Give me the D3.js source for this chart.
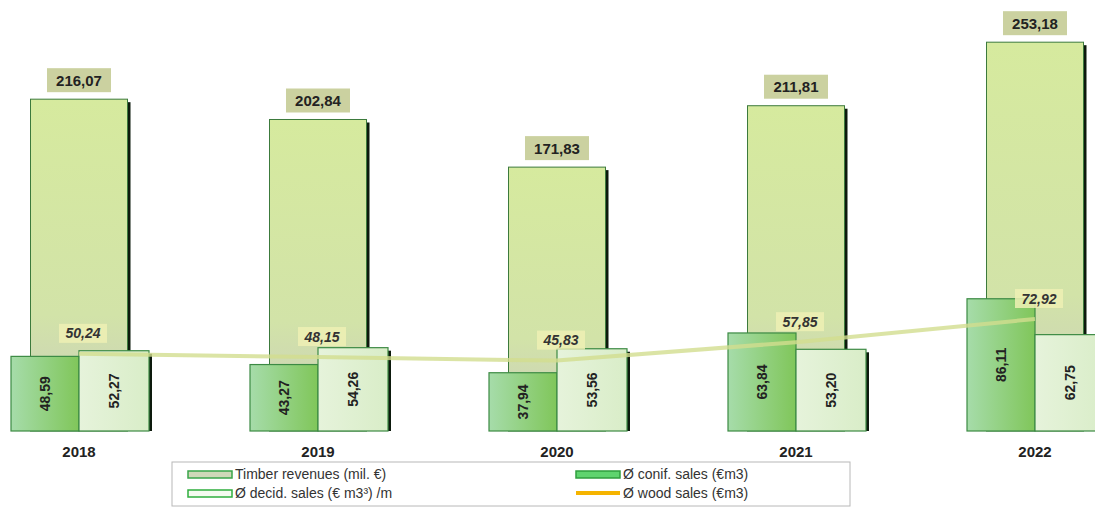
<!DOCTYPE html>
<html>
<head>
<meta charset="utf-8">
<title>Timber revenues and average sales</title>
<script src="https://d3js.org/d3.v7.min.js"></script>
<style>
  html, body { margin: 0; padding: 0; background: #fff; }
  text { font-family: "Liberation Sans", Arial, sans-serif; }
  .cat { font-size: 15px; font-weight: bold; fill: #222; }
  .lbl { font-size: 15px; font-weight: bold; fill: #222; }
  .rot { font-size: 14px; font-weight: bold; fill: #222; }
  .ital { font-size: 14px; font-weight: bold; font-style: italic; fill: #333; }
  .leg { font-size: 14px; fill: #333; }
</style>
</head>
<body>
<script>
var years = ["2018", "2019", "2020", "2021", "2022"];
var timber = [216.07, 202.84, 171.83, 211.81, 253.18];
var conif = [48.59, 43.27, 37.94, 63.84, 86.11];
var decid = [52.27, 54.26, 53.56, 53.20, 62.75];
var wood = [50.24, 48.15, 45.83, 57.85, 72.92];
var legendLabels = ["Timber revenues (mil. €)", "Ø conif. sales (€m3)", "Ø decid. sales (€ m3³)  /m", "Ø wood sales (€m3)"];

var fmt = function(v) { return v.toFixed(2).replace(".", ","); };

var W = 1095, H = 509;
var svg = d3.select("body").append("svg").attr("width", W).attr("height", H);

var defs = svg.append("defs");
var g1 = defs.append("linearGradient").attr("id", "gBig").attr("x1", 0).attr("y1", 0).attr("x2", 0).attr("y2", 1);
g1.append("stop").attr("offset", "0%").attr("stop-color", "#d6ea9e");
g1.append("stop").attr("offset", "65%").attr("stop-color", "#d2e3a8");
g1.append("stop").attr("offset", "100%").attr("stop-color", "#c9cbbf");
var g2 = defs.append("linearGradient").attr("id", "gConif").attr("x1", 0).attr("y1", 0).attr("x2", 1).attr("y2", 0);
g2.append("stop").attr("offset", "0%").attr("stop-color", "#a6dcaa");
g2.append("stop").attr("offset", "100%").attr("stop-color", "#80c65a");
var g3 = defs.append("linearGradient").attr("id", "gDecid").attr("x1", 0).attr("y1", 0).attr("x2", 1).attr("y2", 0);
g3.append("stop").attr("offset", "0%").attr("stop-color", "#e6f3db");
g3.append("stop").attr("offset", "100%").attr("stop-color", "#d9edc8");

var x = d3.scalePoint().domain(years).range([79, 1035]);
var y = d3.scaleLinear().domain([0, 280]).range([431, 1]);

var bigW = 97, cW = 68, dW = 70;
var rows = years.map(function(yr, i) {
  return { year: yr, timber: timber[i], conif: conif[i], decid: decid[i], wood: wood[i] };
});

// big bars (timber revenues)
var big = svg.append("g");
big.selectAll("rect.shadow").data(rows).enter().append("rect")
  .attr("x", function(d) { return x(d.year) + bigW / 2; })
  .attr("y", function(d) { return y(d.timber) + 3; })
  .attr("width", 3)
  .attr("height", function(d) { return y(0) - y(d.timber) - 3; })
  .attr("fill", "#0d1a0d");
big.selectAll("rect.bar").data(rows).enter().append("rect")
  .attr("x", function(d) { return x(d.year) - bigW / 2; })
  .attr("y", function(d) { return y(d.timber); })
  .attr("width", bigW)
  .attr("height", function(d) { return y(0) - y(d.timber); })
  .attr("fill", "url(#gBig)")
  .attr("stroke", "#3c7a3c").attr("stroke-width", 1);

// labels of big bars
var bl = svg.append("g");
bl.selectAll("rect").data(rows).enter().append("rect")
  .attr("x", function(d) { return x(d.year) - 32; })
  .attr("y", function(d) { return y(d.timber) - 31; })
  .attr("width", 64).attr("height", 24)
  .attr("fill", "#cbd1a0");
bl.selectAll("text").data(rows).enter().append("text")
  .attr("class", "lbl")
  .attr("x", function(d) { return x(d.year); })
  .attr("y", function(d) { return y(d.timber) - 13.5; })
  .attr("text-anchor", "middle")
  .text(function(d) { return fmt(d.timber); });

// small bars
var sm = svg.append("g");
sm.selectAll("rect.conif").data(rows).enter().append("rect")
  .attr("x", function(d) { return x(d.year) - cW; })
  .attr("y", function(d) { return y(d.conif); })
  .attr("width", cW)
  .attr("height", function(d) { return y(0) - y(d.conif); })
  .attr("fill", "url(#gConif)")
  .attr("stroke", "#3c8a44").attr("stroke-width", 1.2);
sm.selectAll("rect.dshadow").data(rows).enter().append("rect")
  .attr("x", function(d) { return x(d.year) + dW; })
  .attr("y", function(d) { return y(d.decid) + 3; })
  .attr("width", 3)
  .attr("height", function(d) { return y(0) - y(d.decid) - 3; })
  .attr("fill", "#0d1a0d");
sm.selectAll("rect.decid").data(rows).enter().append("rect")
  .attr("x", function(d) { return x(d.year); })
  .attr("y", function(d) { return y(d.decid); })
  .attr("width", dW)
  .attr("height", function(d) { return y(0) - y(d.decid); })
  .attr("fill", "url(#gDecid)")
  .attr("stroke", "#3c8a44").attr("stroke-width", 1.2);

// line (wood sales)
var line = d3.line()
  .x(function(d) { return x(d.year); })
  .y(function(d) { return y(d.wood); });
svg.append("path").datum(rows)
  .attr("d", line)
  .attr("fill", "none")
  .attr("stroke", "#d2dd8e")
  .attr("stroke-opacity", 0.8)
  .attr("stroke-width", 4);

// rotated labels
sm.selectAll("text.c").data(rows).enter().append("text")
  .attr("class", "rot")
  .attr("text-anchor", "middle")
  .attr("transform", function(d) {
    return "translate(" + (x(d.year) - cW / 2 + 5) + "," + ((y(d.conif) + y(0)) / 2) + ") rotate(-90)";
  })
  .text(function(d) { return fmt(d.conif); });
sm.selectAll("text.d").data(rows).enter().append("text")
  .attr("class", "rot")
  .attr("text-anchor", "middle")
  .attr("transform", function(d) {
    return "translate(" + (x(d.year) + dW / 2 + 5) + "," + ((y(d.decid) + y(0)) / 2) + ") rotate(-90)";
  })
  .text(function(d) { return fmt(d.decid); });

// line labels
var ll = svg.append("g");
ll.selectAll("rect").data(rows).enter().append("rect")
  .attr("x", function(d) { return x(d.year) - 20; })
  .attr("y", function(d) { return y(d.wood) - 30; })
  .attr("width", 48).attr("height", 19)
  .attr("fill", "#eef0b4").attr("fill-opacity", 0.85);
ll.selectAll("text").data(rows).enter().append("text")
  .attr("class", "ital")
  .attr("x", function(d) { return x(d.year) + 4; })
  .attr("y", function(d) { return y(d.wood) - 15.5; })
  .attr("text-anchor", "middle")
  .text(function(d) { return fmt(d.wood); });

// category labels
svg.append("g").selectAll("text").data(years).enter().append("text")
  .attr("class", "cat")
  .attr("x", function(d) { return x(d); })
  .attr("y", 457)
  .attr("text-anchor", "middle")
  .text(function(d) { return d; });

// legend
var leg = svg.append("g");
leg.append("rect").attr("x", 172).attr("y", 462).attr("width", 678).attr("height", 44)
  .attr("fill", "#fff").attr("stroke", "#b8b8b8").attr("stroke-width", 1);
var legPos = [[188, 474], [576, 474], [188, 493], [576, 493]];
var sw = leg.selectAll("g").data(legendLabels).enter().append("g")
  .attr("transform", function(d, i) { return "translate(" + legPos[i][0] + "," + legPos[i][1] + ")"; });
sw.each(function(d, i) {
  var s = d3.select(this);
  if (i === 0) {
    s.append("rect").attr("x", 0).attr("y", -3).attr("width", 44).attr("height", 7)
      .attr("fill", "#cfd8b8").attr("stroke", "#3aa54a").attr("stroke-width", 1.5);
  } else if (i === 1) {
    s.append("rect").attr("x", 0).attr("y", -3).attr("width", 44).attr("height", 7)
      .attr("fill", "#5fd46e").attr("stroke", "#2f9e3e").attr("stroke-width", 1.5);
  } else if (i === 2) {
    s.append("rect").attr("x", 0).attr("y", -3).attr("width", 44).attr("height", 7)
      .attr("fill", "#f4fbf0").attr("stroke", "#2fae3e").attr("stroke-width", 1.5);
  } else {
    s.append("line").attr("x1", 0).attr("x2", 44).attr("y1", 0).attr("y2", 0)
      .attr("stroke", "#f5b400").attr("stroke-width", 4);
  }
  s.append("text").attr("class", "leg").attr("x", 47).attr("y", 5).text(d);
});
</script>
</body>
</html>
